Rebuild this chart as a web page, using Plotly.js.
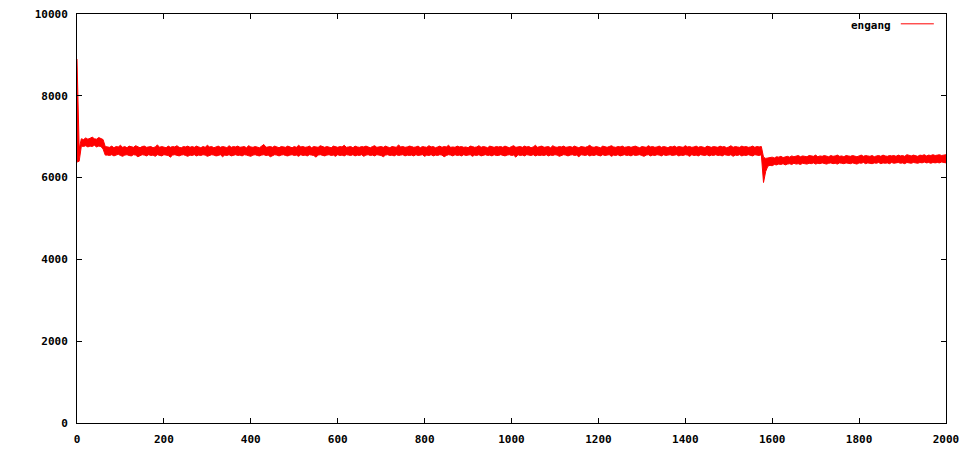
<!DOCTYPE html>
<html>
<head>
<meta charset="utf-8">
<script src="https://cdn.plot.ly/plotly-3.0.1.min.js"></script>
<style>html,body{margin:0;padding:0;background:#fff;}#chart{width:960px;height:450px;}</style>
</head>
<body>
<div id="chart"></div>
<script>
// readings every 5 x-units; the noisy trace is drawn as its upper/lower envelope
const sampleStep = 5;
const seriesName = "engang";
const xTicks = [0, 200, 400, 600, 800, 1000, 1200, 1400, 1600, 1800, 2000];
const yTicks = [0, 2000, 4000, 6000, 8000, 10000];

// x = 0 .. 65
const startupUpper = [8900, 6700, 6950, 6930, 6970, 6940, 6960, 6990, 6950, 6940, 6980, 6950, 6930, 6760];
const startupLower = [6380, 6400, 6770, 6760, 6780, 6750, 6770, 6760, 6790, 6750, 6770, 6760, 6700, 6550];

// x = 70 .. 1575
const steadyUpper = [
  6750,6740,6770,6730,6760,6750,6790,6740,6760,6730,6770,6750,6740,6780,6750,6730,6760,6770,6740,6750,
  6760,6730,6750,6800,6740,6760,6750,6730,6770,6740,6760,6750,6780,6740,6730,6760,6750,6770,6740,6760,
  6740,6770,6750,6730,6760,6740,6790,6750,6760,6730,6750,6770,6740,6760,6750,6730,6780,6740,6760,6750,
  6770,6740,6750,6760,6730,6780,6750,6740,6760,6750,6730,6770,6810,6740,6750,6760,6740,6770,6750,6730,
  6760,6750,6740,6770,6750,6730,6760,6740,6790,6750,6760,6740,6750,6770,6730,6760,6750,6740,6780,6750,
  6740,6760,6750,6730,6770,6750,6740,6760,6750,6790,6740,6750,6760,6730,6770,6750,6740,6760,6750,6770,
  6750,6730,6760,6780,6740,6750,6760,6740,6770,6750,6730,6760,6750,6740,6800,6750,6760,6740,6750,6770,
  6760,6740,6750,6770,6730,6760,6750,6740,6780,6750,6760,6730,6750,6770,6740,6760,6750,6790,6740,6750,
  6740,6770,6750,6760,6740,6750,6730,6770,6760,6740,6750,6780,6740,6760,6750,6730,6770,6750,6740,6760,
  6750,6760,6740,6770,6750,6730,6760,6780,6740,6750,6760,6740,6770,6750,6760,6730,6750,6790,6740,6760,
  6770,6740,6750,6760,6730,6780,6750,6740,6760,6750,6770,6740,6750,6760,6740,6770,6750,6730,6760,6750,
  6740,6760,6790,6750,6740,6760,6750,6730,6770,6750,6740,6760,6780,6750,6740,6760,6750,6770,6740,6750,
  6760,6740,6750,6770,6750,6730,6760,6750,6740,6780,6750,6760,6740,6750,6770,6740,6760,6750,6730,6760,
  6750,6770,6740,6760,6750,6740,6780,6750,6760,6740,6750,6770,6740,6760,6750,6730,6770,6750,6740,6760,
  6750,6740,6770,6750,6760,6730,6750,6780,6740,6760,6750,6740,6770,6750,6760,6740,6750,6770,6740,6760,
  6750,6760
];
const steadyLower = [
  6550,6540,6560,6530,6550,6570,6540,6520,6550,6560,6540,6530,6560,6550,6510,6540,6560,6550,6530,6560,
  6540,6550,6520,6560,6540,6530,6560,6550,6540,6500,6550,6560,6540,6530,6550,6560,6540,6520,6550,6540,
  6560,6530,6550,6540,6560,6550,6520,6540,6560,6550,6530,6540,6560,6510,6550,6540,6560,6530,6550,6560,
  6540,6550,6530,6560,6550,6540,6520,6550,6560,6540,6530,6550,6560,6540,6550,6510,6540,6560,6550,6530,
  6550,6560,6540,6530,6550,6560,6540,6550,6520,6560,6540,6550,6530,6560,6550,6540,6500,6550,6560,6540,
  6530,6550,6560,6540,6550,6520,6560,6540,6550,6530,6560,6550,6540,6560,6530,6550,6540,6560,6520,6550,
  6560,6540,6550,6530,6560,6550,6540,6510,6550,6560,6540,6550,6530,6560,6540,6550,6560,6530,6550,6540,
  6550,6530,6560,6540,6550,6560,6520,6550,6540,6560,6530,6550,6540,6560,6550,6510,6540,6560,6550,6530,
  6560,6540,6550,6530,6560,6540,6550,6560,6520,6550,6540,6560,6530,6550,6560,6540,6550,6530,6560,6540,
  6540,6560,6550,6530,6550,6560,6540,6550,6500,6560,6540,6550,6530,6560,6550,6540,6560,6530,6550,6540,
  6550,6540,6560,6530,6550,6540,6560,6550,6520,6540,6560,6550,6530,6550,6560,6540,6550,6510,6560,6550,
  6540,6560,6530,6550,6540,6560,6550,6530,6560,6540,6550,6560,6520,6550,6540,6560,6530,6550,6560,6540,
  6550,6530,6560,6540,6550,6560,6540,6520,6550,6560,6530,6550,6540,6560,6550,6530,6560,6540,6550,6560,
  6540,6550,6560,6530,6550,6540,6560,6550,6520,6560,6540,6550,6530,6560,6550,6540,6560,6530,6550,6540,
  6560,6540,6550,6530,6560,6550,6540,6560,6520,6550,6540,6560,6530,6550,6540,6560,6550,6530,6560,6550,
  6540,6560
];

// x = 1580 .. 2000
const afterDropUpper = [
  6500,6470,6480,6490,6500,6480,6510,6500,6520,6490,6510,6520,6500,6530,6510,6520,6540,6510,6530,6520,
  6510,6540,6530,6520,6550,6510,6530,6520,6540,6530,6510,6540,6520,6530,6550,6520,6530,6510,6540,6530,
  6520,6540,6530,6510,6530,6550,6520,6540,6530,6520,6540,6510,6530,6540,6520,6550,6530,6520,6540,6530,
  6540,6520,6550,6530,6540,6520,6560,6540,6530,6550,6540,6520,6550,6540,6560,6530,6550,6540,6560,6540,
  6550,6560,6540,6550,6560
];
const afterDropLower = [
  5880,6150,6280,6300,6290,6320,6310,6330,6320,6340,6310,6330,6340,6320,6350,6330,6340,6320,6350,6340,
  6330,6350,6340,6360,6330,6350,6340,6360,6350,6330,6350,6360,6340,6350,6330,6360,6350,6340,6360,6350,
  6340,6360,6350,6330,6360,6350,6370,6340,6360,6350,6340,6360,6350,6370,6340,6360,6350,6360,6340,6370,
  6350,6360,6370,6350,6360,6340,6370,6360,6350,6370,6360,6350,6370,6360,6380,6360,6370,6350,6370,6360,
  6370,6360,6380,6370,6360
];

const upperValues = startupUpper.concat(steadyUpper, afterDropUpper);
const lowerValues = startupLower.concat(steadyLower, afterDropLower);
const xValues = upperValues.map((_, i) => i * sampleStep);

const red = "#ff0000";
const tickFont = {family: "DejaVu Sans Mono, monospace", size: 11, color: "#000", weight: "bold"};

const lowerTrace = {
  x: xValues, y: lowerValues, type: "scatter", mode: "lines", name: seriesName,
  line: {color: red, width: 1}, showlegend: false, hoverinfo: "skip"
};
const upperTrace = {
  x: xValues, y: upperValues, type: "scatter", mode: "lines", name: seriesName,
  line: {color: red, width: 1}, fill: "tonexty", fillcolor: red, showlegend: false, hoverinfo: "skip"
};

const axisCommon = {
  showgrid: false, zeroline: false, showline: true, linecolor: "#000", linewidth: 1,
  mirror: "ticks", ticks: "inside", ticklen: 5, tickwidth: 1, tickcolor: "#000",
  tickfont: tickFont, fixedrange: true
};

const layout = {
  width: 960, height: 450,
  margin: {l: 77, r: 14, t: 14, b: 27, pad: 0},
  paper_bgcolor: "#fff", plot_bgcolor: "#fff",
  xaxis: Object.assign({}, axisCommon, {range: [0, 2000], tickvals: xTicks, ticktext: xTicks.map(String), ticklabelstandoff: 6}),
  yaxis: Object.assign({}, axisCommon, {range: [0, 10000], tickvals: yTicks, ticktext: yTicks.map(String), ticklabelstandoff: 6}),
  annotations: [{
    text: seriesName, xref: "paper", yref: "paper", x: 0.939, y: 0.972,
    xanchor: "right", yanchor: "middle", showarrow: false, font: tickFont
  }],
  shapes: [{
    type: "line", xref: "paper", yref: "paper", x0: 0.948, x1: 0.986, y0: 0.976, y1: 0.976,
    line: {color: red, width: 1}
  }]
};

Plotly.newPlot("chart", [lowerTrace, upperTrace], layout, {displayModeBar: false, staticPlot: true});
</script>
</body>
</html>
